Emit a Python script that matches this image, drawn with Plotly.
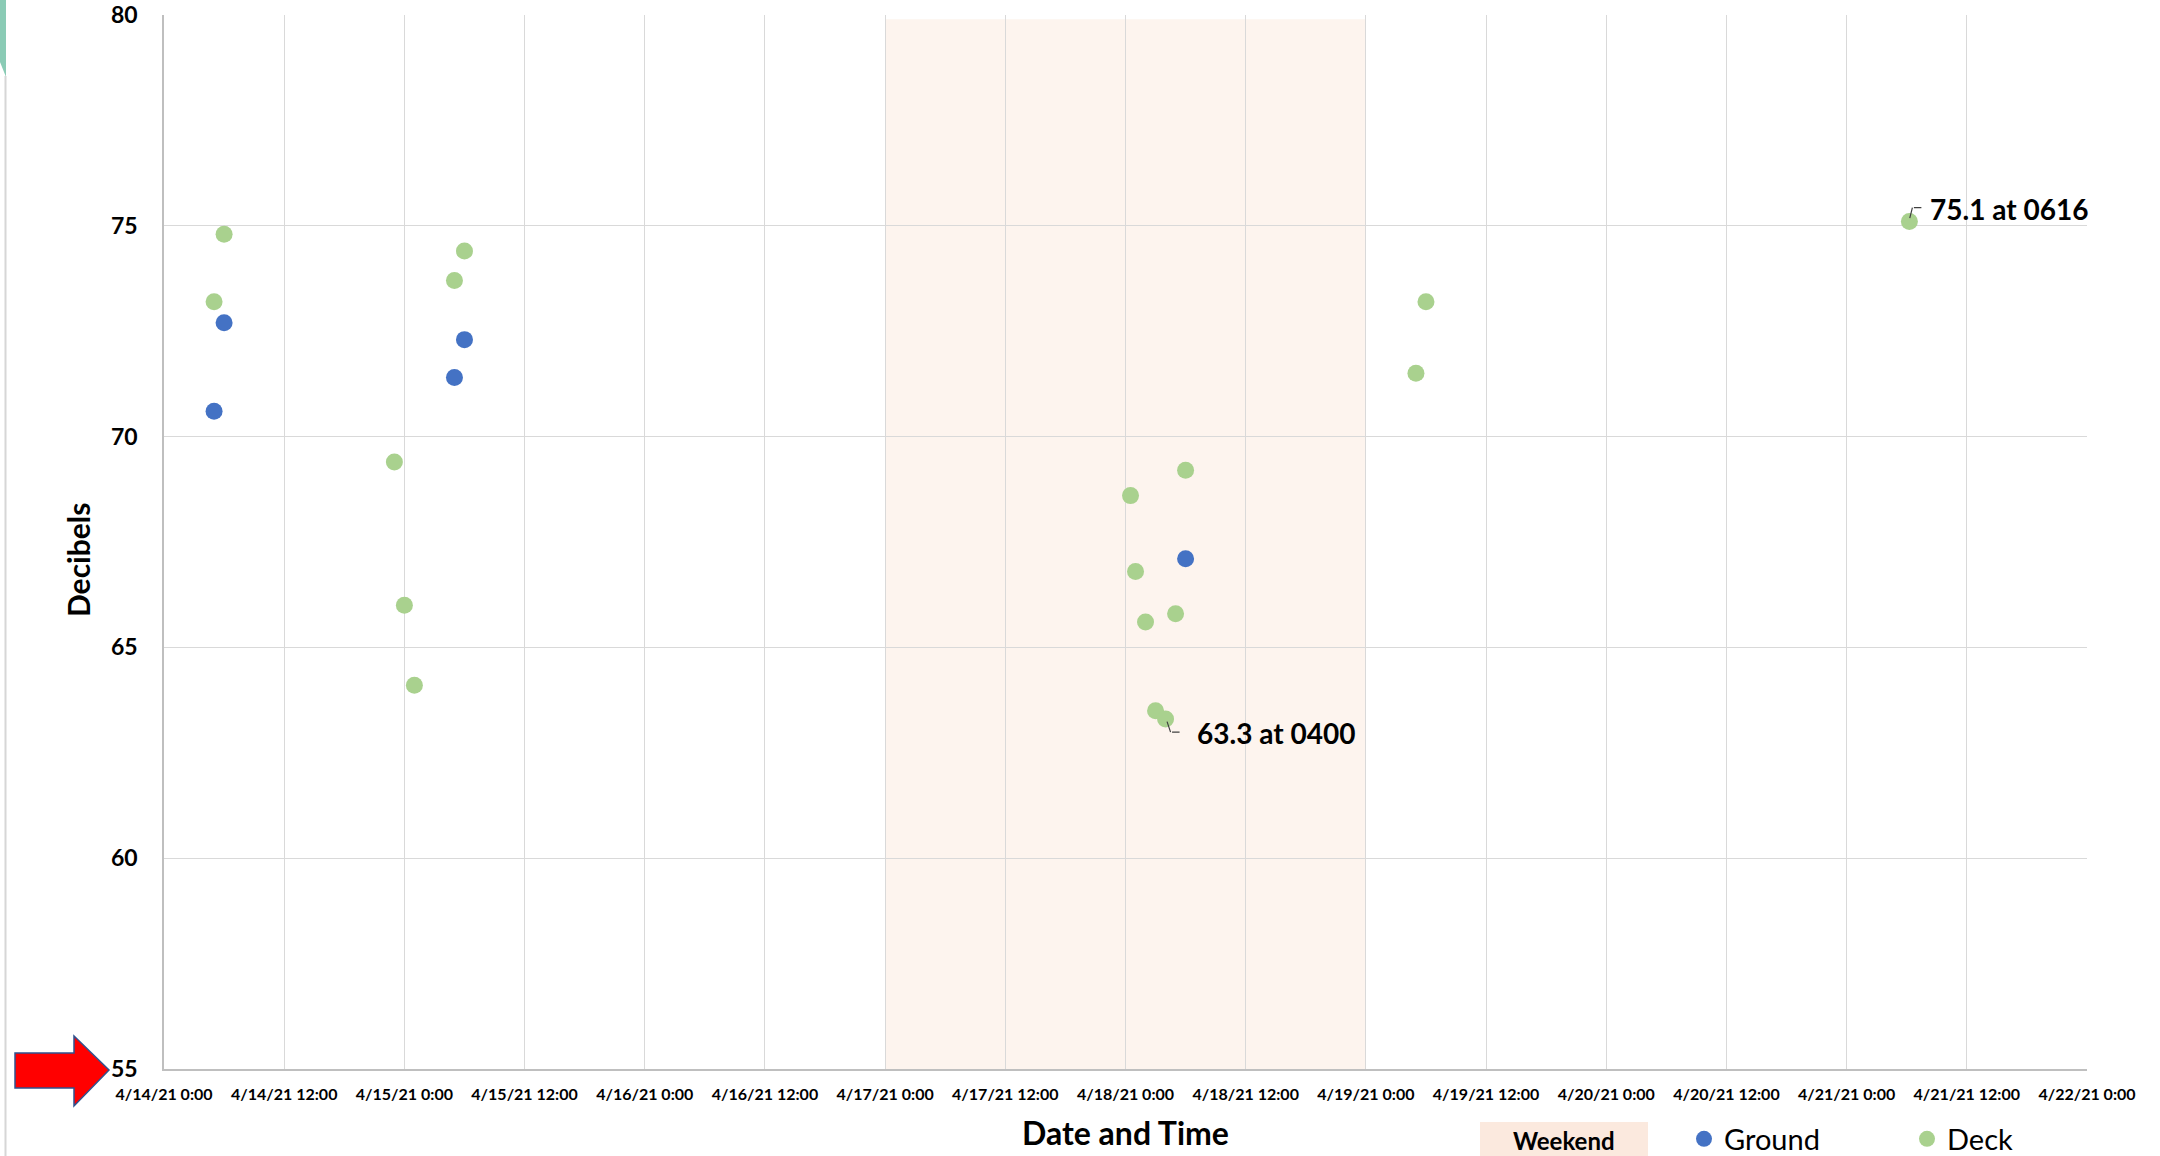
import plotly.graph_objects as go

# ---- data -------------------------------------------------------------
ground_times = ["2021-04-14 05:00", "2021-04-14 06:00", "2021-04-15 05:00",
                "2021-04-15 06:00", "2021-04-18 06:00"]
ground_db = [70.6, 72.7, 71.4, 72.3, 67.1]

deck_times = ["2021-04-14 05:00", "2021-04-14 06:00", "2021-04-14 23:00",
              "2021-04-15 00:00", "2021-04-15 01:00", "2021-04-15 05:00",
              "2021-04-15 06:00", "2021-04-18 00:30", "2021-04-18 01:00",
              "2021-04-18 02:00", "2021-04-18 03:00", "2021-04-18 04:00",
              "2021-04-18 05:00", "2021-04-18 06:00", "2021-04-19 05:00",
              "2021-04-19 06:00", "2021-04-21 06:16"]
deck_db = [73.2, 74.8, 69.4, 66.0, 64.1, 73.7, 74.4, 68.6, 66.8, 65.6,
           63.5, 63.3, 65.8, 69.2, 71.5, 73.2, 75.1]

weekend_start = "2021-04-17 00:00"
weekend_end = "2021-04-19 00:00"

x_tick_vals = ["2021-04-14 00:00", "2021-04-14 12:00", "2021-04-15 00:00",
               "2021-04-15 12:00", "2021-04-16 00:00", "2021-04-16 12:00",
               "2021-04-17 00:00", "2021-04-17 12:00", "2021-04-18 00:00",
               "2021-04-18 12:00", "2021-04-19 00:00", "2021-04-19 12:00",
               "2021-04-20 00:00", "2021-04-20 12:00", "2021-04-21 00:00",
               "2021-04-21 12:00", "2021-04-22 00:00"]
x_tick_text = ["4/14/21 0:00", "4/14/21 12:00", "4/15/21 0:00", "4/15/21 12:00",
               "4/16/21 0:00", "4/16/21 12:00", "4/17/21 0:00", "4/17/21 12:00",
               "4/18/21 0:00", "4/18/21 12:00", "4/19/21 0:00", "4/19/21 12:00",
               "4/20/21 0:00", "4/20/21 12:00", "4/21/21 0:00", "4/21/21 12:00",
               "4/22/21 0:00"]
y_tick_vals = [55, 60, 65, 70, 75, 80]

# callouts: (time, value, label)
low_callout = ("2021-04-18 04:00", 63.3, "63.3 at 0400")
high_callout = ("2021-04-21 06:16", 75.1, "75.1 at 0616")

# ---- page geometry ----------------------------------------------------
W, H = 2160, 1156
L, R, T, B = 164, 73, 15, 87
FONT = "Lato, 'Open Sans', sans-serif"
BLUE = "#4472C4"
GREEN = "#A9D18E"
LEADER = "#404040"


def px_x(p):
    return (p - L) / (W - L - R)


def px_y(p):
    return (H - B - p) / (H - T - B)


fig = go.Figure()

fig.add_trace(go.Scatter(
    x=ground_times, y=ground_db, mode="markers", name="Ground",
    marker=dict(color=BLUE, size=17, line=dict(width=0)),
))
fig.add_trace(go.Scatter(
    x=deck_times, y=deck_db, mode="markers", name="Deck",
    marker=dict(color=GREEN, size=17, line=dict(width=0)),
))

shapes = []
# weekend band behind the gridlines
shapes.append(dict(type="rect", xref="x", yref="y", layer="below",
                   x0=weekend_start, x1=weekend_end, y0=55, y1=79.9,
                   fillcolor="rgb(253,244,238)", line=dict(width=0)))
# weekend legend swatch
shapes.append(dict(type="rect", xref="paper", yref="paper",
                   x0=px_x(1480), x1=px_x(1648), y0=px_y(1170), y1=px_y(1122),
                   fillcolor="rgb(251,233,222)", line=dict(width=0)))
# red pointer arrow at the 55 dB baseline
arrow_pts = [(15, 1053), (74, 1053), (74, 1036), (109, 1070),
             (74, 1106), (74, 1088), (15, 1088)]
path = "M " + " L ".join(f"{px_x(a):.5f},{px_y(b):.5f}" for a, b in arrow_pts) + " Z"
shapes.append(dict(type="path", xref="paper", yref="paper", path=path,
                   fillcolor="#FF0000", line=dict(color="#2F528F", width=1.5)))
# slide edge decorations
corner_pts = [(0, 0), (6, 0), (6, 77), (0, 62)]
path = "M " + " L ".join(f"{px_x(a):.5f},{px_y(b):.5f}" for a, b in corner_pts) + " Z"
shapes.append(dict(type="path", xref="paper", yref="paper", path=path,
                   fillcolor="#8ACBB5", line=dict(width=0)))
shapes.append(dict(type="line", xref="paper", yref="paper",
                   x0=px_x(5.5), x1=px_x(5.5), y0=px_y(1160), y1=px_y(76),
                   line=dict(color="#D6D6D6", width=2)))

annotations = [
    dict(text="Decibels", xref="paper", yref="paper", x=px_x(78), y=px_y(560),
         textangle=-90, showarrow=False, xanchor="center", yanchor="middle",
         font=dict(family=FONT, size=30, color="black", weight="bold")),
    dict(text="Date and Time", xref="paper", yref="paper", x=px_x(1125), y=px_y(1132),
         showarrow=False, xanchor="center", yanchor="middle",
         font=dict(family=FONT, size=32, color="black", weight="bold")),
    dict(text="Weekend", xref="paper", yref="paper", x=px_x(1564), y=px_y(1140),
         showarrow=False, xanchor="center", yanchor="middle",
         font=dict(family=FONT, size=24, color="black", weight="bold")),
]


def leader(x, y, pts):
    """Bent leader line through pixel offsets pts (dx, dy; dy downward) from a point."""
    out = []
    for (x0, y0), (x1, y1) in zip(pts[:-1], pts[1:]):
        out.append(dict(x=x, y=y, xref="x", yref="y", text="", showarrow=True,
                        xshift=x1, yshift=-y1, ax=x0 - x1, ay=y0 - y1,
                        arrowhead=0, arrowwidth=1.2, arrowcolor=LEADER,
                        standoff=0, startstandoff=0))
    return out


lx, ly, lt = low_callout
annotations += leader(lx, ly, [(1, 1), (5, 13), (14, 13)])
annotations.append(dict(x=lx, y=ly, xref="x", yref="y", text=lt, showarrow=False,
                        xanchor="left", yanchor="middle", xshift=29, yshift=-14,
                        font=dict(family=FONT, size=28, color="black", weight="bold")))
hx, hy, ht = high_callout
annotations += leader(hx, hy, [(0, -2), (3, -14), (12, -14)])
annotations.append(dict(x=hx, y=hy, xref="x", yref="y", text=ht, showarrow=False,
                        xanchor="left", yanchor="middle", xshift=19, yshift=13,
                        font=dict(family=FONT, size=28, color="black", weight="bold")))

fig.update_layout(
    width=W, height=H,
    margin=dict(l=L, r=R, t=T, b=B, pad=0, autoexpand=False),
    paper_bgcolor="white", plot_bgcolor="white",
    shapes=shapes, annotations=annotations,
    showlegend=True,
    legend=dict(orientation="h", x=px_x(1684), y=px_y(1139),
                xanchor="left", yanchor="middle", entrywidth=178,
                entrywidthmode="pixels", bgcolor="rgba(0,0,0,0)",
                font=dict(family=FONT, size=29, color="black")),
)

fig.update_xaxes(
    type="date", range=["2021-04-14 00:00", "2021-04-22 00:00"],
    tickmode="array", tickvals=x_tick_vals, ticktext=x_tick_text,
    tickangle=0,
    showgrid=True, gridcolor="#D9D9D9", gridwidth=1,
    showline=True, linecolor="#BFBFBF", linewidth=1.5,
    ticks="outside", ticklen=10, tickcolor="rgba(0,0,0,0)",
    tickfont=dict(family=FONT, size=16, color="black", weight="bold"),
    zeroline=False,
)
fig.update_yaxes(
    range=[55, 80], tickmode="array", tickvals=y_tick_vals,
    showgrid=True, gridcolor="#D9D9D9", gridwidth=1,
    showline=True, linecolor="#BFBFBF", linewidth=1.5,
    ticks="outside", ticklen=20, tickcolor="rgba(0,0,0,0)",
    tickfont=dict(family=FONT, size=23, color="black", weight="bold"),
    zeroline=False,
)

fig.write_html("out.html")
